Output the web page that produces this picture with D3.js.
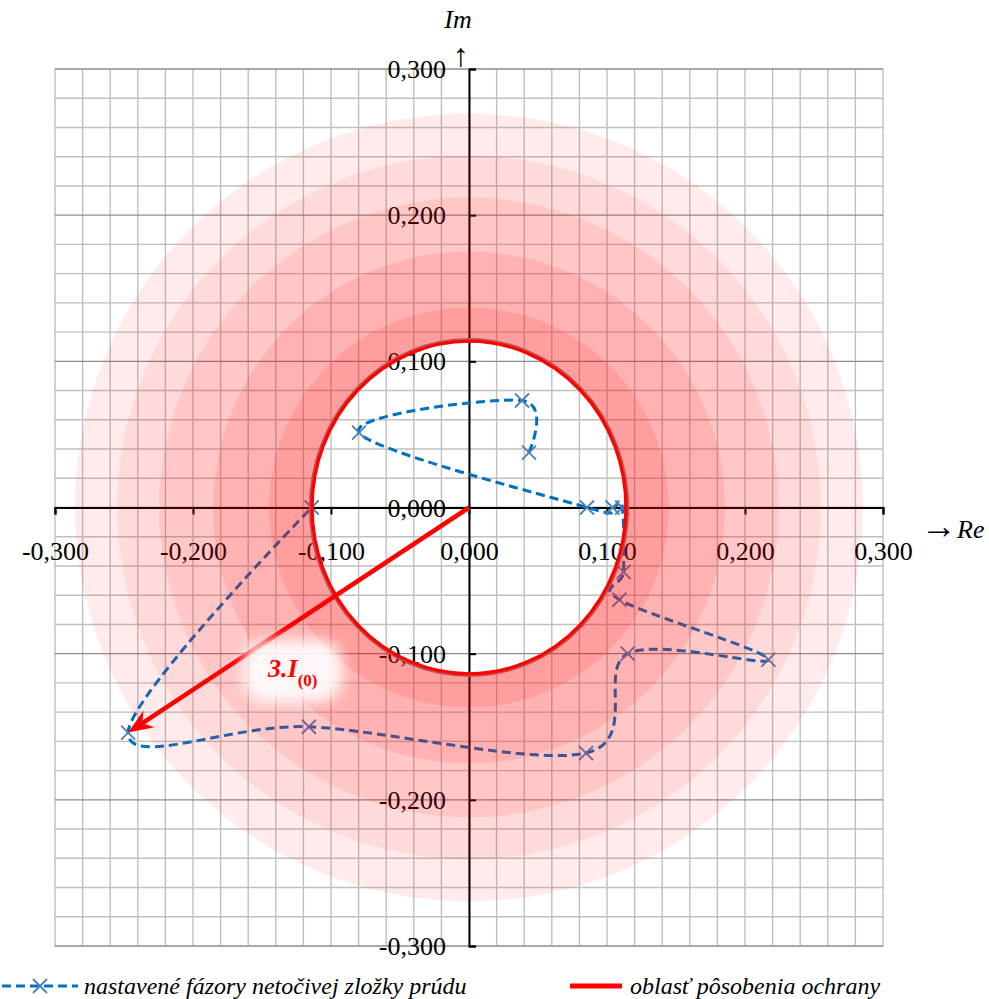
<!DOCTYPE html>
<html><head><meta charset="utf-8">
<script src="https://cdn.jsdelivr.net/npm/d3@7"></script>
<style>body{margin:0;background:#fff}svg{display:block}</style>
</head><body>
<svg id="chart" width="989" height="999"></svg>
<script>
// ---- data ----
const seriesName = "nastavené fázory netočivej zložky prúdu";
const zoneName = "oblasť pôsobenia ochrany";
const phasorRe = [0.0435, 0.0384, -0.0797, 0.0855, 0.104, 0.111, 0.112, 0.109, 0.217, 0.115, 0.0848, -0.116, -0.247, -0.114];
const phasorIm = [0.0376, 0.0732, 0.0513, 0.000, 0.000, 0.000, -0.044, -0.063, -0.104, -0.100, -0.168, -0.150, -0.154, 0.000];
const zoneRadius = 0.1137;
const arrowTip = [-0.247, -0.154];
const arrowLabel = "3.I";
const arrowSub = "(0)";
const ringRadii = [0.2855, 0.255, 0.2246, 0.1855, 0.145];
const ringAlpha = [0.08, 0.145, 0.22, 0.30, 0.38];
const tickValues = [-0.3, -0.2, -0.1, 0, 0.1, 0.2, 0.3];
const tickLabels = ["-0,300", "-0,200", "-0,100", "0,000", "0,100", "0,200", "0,300"];
const minorStep = 0.02;

// ---- setup ----
const svg = d3.select("#chart");
const x = d3.scaleLinear().domain([-0.3, 0.3]).range([55, 883]);
const y = d3.scaleLinear().domain([-0.3, 0.3]).range([946, 69]);
const serif = "'Liberation Serif','Times New Roman',serif";
const cx = x(0), cy = y(0);

const defs = svg.append("defs");
defs.append("filter").attr("id", "glow").attr("x", "-50%").attr("y", "-50%").attr("width", "200%").attr("height", "200%")
  .append("feGaussianBlur").attr("stdDeviation", 7);

// grid
const minor = d3.range(-15, 16).map(i => i * minorStep);
const g = svg.append("g");
g.selectAll("line.v").data(minor).join("line")
  .attr("x1", d => x(d)).attr("x2", d => x(d)).attr("y1", y(0.3)).attr("y2", y(-0.3))
  .attr("stroke", "#BFBFBF").attr("stroke-width", 1.4);
g.selectAll("line.h").data(minor).join("line")
  .attr("y1", d => y(d)).attr("y2", d => y(d)).attr("x1", x(-0.3)).attr("x2", x(0.3))
  .attr("stroke", d => Math.abs(Math.round(d * 100) % 10) === 0 ? "#8C8C8C" : "#BFBFBF")
  .attr("stroke-width", 1.4);

// axes
const xAxis = d3.axisBottom(x).tickValues(tickValues).tickFormat((d, i) => tickLabels[i]).tickSize(7).tickSizeOuter(7);
const yAxis = d3.axisRight(y).tickValues(tickValues).tickFormat((d, i) => tickLabels[i]).tickSize(7).tickSizeOuter(7);
const xg = svg.append("g").attr("transform", `translate(0,${cy})`).call(xAxis);
const yg = svg.append("g").attr("transform", `translate(${cx},0)`).call(yAxis);
[xg, yg].forEach(a => {
  a.select(".domain").attr("stroke", "#000").attr("stroke-width", 2);
  a.selectAll(".tick line").attr("stroke", "#000").attr("stroke-width", 2);
  a.selectAll(".tick text").attr("font-family", serif).attr("font-size", 26).attr("fill", "#000");
});
xg.selectAll(".tick text").attr("y", 0).attr("dy", null).attr("transform", "translate(0,52)");
yg.selectAll(".tick text").attr("x", -23).attr("text-anchor", "end").attr("dy", "0.33em");

// phasor curve
const pts = phasorRe.map((r, i) => [x(r), y(phasorIm[i])]);
const line = d3.line().curve(d3.curveCardinal.tension(0));
svg.append("path").attr("d", line(pts)).attr("fill", "none")
  .attr("stroke", "#0070C0").attr("stroke-width", 3).attr("stroke-dasharray", "9,5");
const mk = 7;
svg.append("g").selectAll("path").data(pts).join("path")
  .attr("d", d => `M${d[0]-mk},${d[1]-mk}L${d[0]+mk},${d[1]+mk}M${d[0]-mk},${d[1]+mk}L${d[0]+mk},${d[1]-mk}`)
  .attr("stroke", "#4A7EBB").attr("stroke-width", 1.8).attr("fill", "none");

// overlay rings (pixel circles) - semi transparent
function ell(rx, ry) {
  return `M${cx - rx},${cy}A${rx},${ry} 0 1,0 ${cx + rx},${cy}A${rx},${ry} 0 1,0 ${cx - rx},${cy}Z`;
}
const pr = r => x(r) - x(0);
const zrx = x(zoneRadius) - x(0), zry = y(0) - y(zoneRadius);
svg.append("g").selectAll("path").data(ringRadii).join("path")
  .attr("d", (d, i) => {
    const outer = ell(pr(d), pr(d));
    const inner = i < ringRadii.length - 1 ? ell(pr(ringRadii[i + 1]), pr(ringRadii[i + 1])) : ell(zrx, zry);
    return outer + inner;
  })
  .attr("fill-rule", "evenodd").attr("fill", "#FF0000").attr("fill-opacity", (d, i) => ringAlpha[i]);

// zone circle
svg.append("path").attr("d", ell(zrx + 1.8, zry + 1.8)).attr("fill", "none").attr("stroke", "#C0504D").attr("stroke-width", 3);
svg.append("path").attr("d", ell(zrx, zry)).attr("fill", "none").attr("stroke", "#FF0000").attr("stroke-width", 3.2);

// arrow
const tx = x(arrowTip[0]), ty = y(arrowTip[1]);
const ang = Math.atan2(ty - cy, tx - cx);
const L = 25, W = 10, N = 17;
const ux = Math.cos(ang), uy = Math.sin(ang), nx = -uy, ny = ux;
svg.append("line").attr("x1", cx).attr("y1", cy).attr("x2", tx - ux * 14).attr("y2", ty - uy * 14)
  .attr("stroke", "#FF0000").attr("stroke-width", 4.5);
svg.append("path")
  .attr("d", `M${tx},${ty}L${tx - ux * L + nx * W},${ty - uy * L + ny * W}L${tx - ux * N},${ty - uy * N}L${tx - ux * L - nx * W},${ty - uy * L - ny * W}Z`)
  .attr("fill", "#FF0000");

// label glow + label
svg.append("rect").attr("x", 244).attr("y", 640).attr("width", 98).attr("height", 62).attr("rx", 22)
  .attr("fill", "#fff").attr("opacity", 0.9).attr("filter", "url(#glow)");
const lt = svg.append("text").attr("x", 268).attr("y", 677).attr("font-family", serif)
  .attr("font-weight", "bold").attr("font-style", "italic").attr("font-size", 26).attr("fill", "#FF0000");
lt.append("tspan").text(arrowLabel);
lt.append("tspan").attr("dy", 9).attr("font-size", 17).attr("font-style", "normal").text(arrowSub);

// axis titles
svg.append("text").attr("x", 458).attr("y", 28).attr("text-anchor", "middle").attr("font-family", serif)
  .attr("font-style", "italic").attr("font-size", 26).attr("fill", "#000").text("Im");
svg.append("text").attr("x", 461).attr("y", 66).attr("text-anchor", "middle").attr("font-family", serif)
  .attr("font-size", 32).attr("fill", "#000").text("↑");
const reT = svg.append("text").attr("x", 921).attr("y", 538).attr("font-family", serif).attr("fill", "#000");
reT.append("tspan").attr("font-size", 36).text("→");
reT.append("tspan").attr("x", 957).attr("font-size", 26).attr("font-style", "italic").text("Re");

// legend
const ly = 986;
svg.append("line").attr("x1", 2).attr("x2", 78).attr("y1", ly).attr("y2", ly)
  .attr("stroke", "#0070C0").attr("stroke-width", 3).attr("stroke-dasharray", "9,5");
svg.append("path").attr("d", `M${40-mk},${ly-mk}L${40+mk},${ly+mk}M${40-mk},${ly+mk}L${40+mk},${ly-mk}`)
  .attr("stroke", "#4A7EBB").attr("stroke-width", 1.8);
svg.append("text").attr("x", 84).attr("y", ly + 8).attr("font-family", serif).attr("font-style", "italic")
  .attr("font-size", 24).text(seriesName);
svg.append("line").attr("x1", 570).attr("x2", 622).attr("y1", ly).attr("y2", ly)
  .attr("stroke", "#FF0000").attr("stroke-width", 5);
svg.append("text").attr("x", 630).attr("y", ly + 8).attr("font-family", serif).attr("font-style", "italic")
  .attr("font-size", 24).text(zoneName);
</script>
</body></html>
